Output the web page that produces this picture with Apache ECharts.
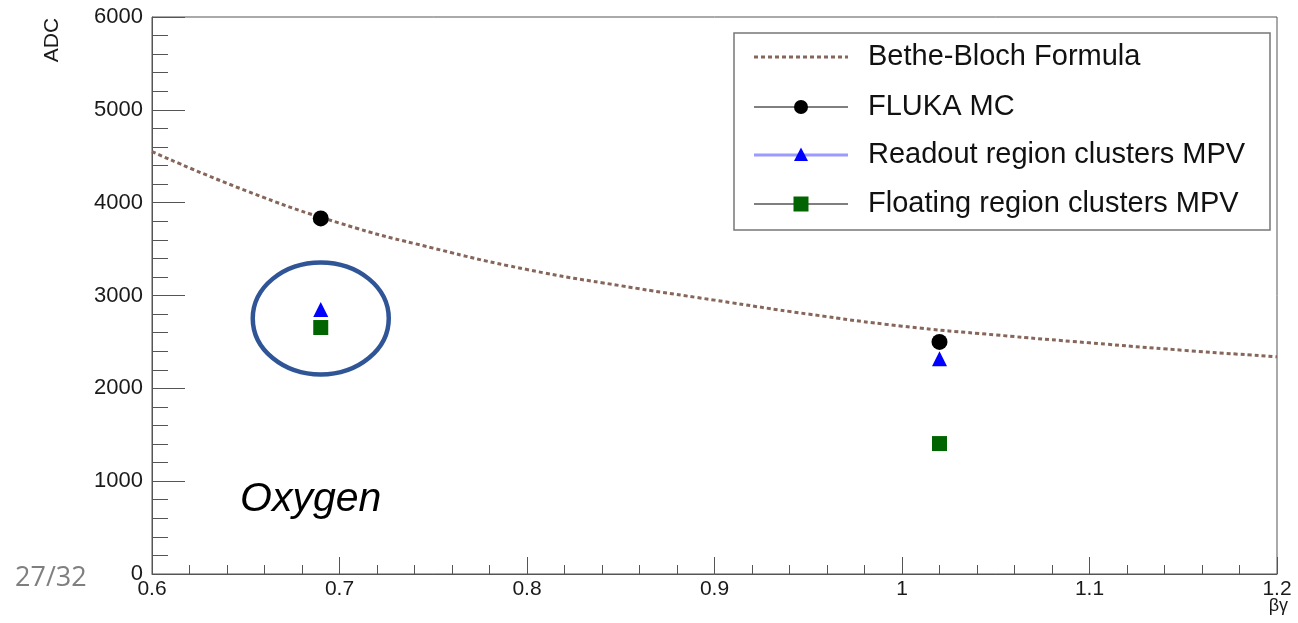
<!DOCTYPE html>
<html>
<head>
<meta charset="utf-8">
<script src="https://cdn.jsdelivr.net/npm/echarts@6/dist/echarts.min.js"></script>
<style>
html,body{margin:0;padding:0;background:#fff;}
#c{width:1298px;height:623px;}
</style>
</head>
<body>
<div id="c"></div>
<script>
// ---- data ----
const betaGamma = [0.69, 1.02];
const flukaMC = [3830, 2500];
const readoutMPV = [2850, 2320];
const floatingMPV = [2655, 1405];
const bbX = [0.60, 0.65, 0.70, 0.75, 0.80, 0.85, 0.90, 0.95, 1.00, 1.05, 1.10, 1.15, 1.20];
const bbY = [4550, 4130, 3780, 3510, 3280, 3105, 2950, 2800, 2670, 2575, 2490, 2410, 2340];
const seriesNames = ['Bethe-Bloch Formula', 'FLUKA MC', 'Readout region clusters MPV', 'Floating region clusters MPV'];
const xTicks = {min: 0.6, max: 1.2, step: 0.1};
const yTicks = {min: 0, max: 6000, step: 1000};

const zip = (xs, ys) => xs.map((x, i) => [x, ys[i]]);
const FONT = "'Liberation Sans', Arial, Helvetica, sans-serif";
const AX = '#555';

const chart = echarts.init(document.getElementById('c'), null, {renderer: 'canvas'});

const option = {
  backgroundColor: '#fff',
  animation: false,
  grid: {left: 152, right: 21, top: 17, bottom: 49, show: true, borderColor: AX, borderWidth: 1, backgroundColor: 'transparent'},
  xAxis: {
    type: 'value', min: xTicks.min, max: xTicks.max, interval: xTicks.step,
    axisLine: {show: true, lineStyle: {color: AX, width: 1}},
    axisTick: {show: true, inside: true, length: 17, lineStyle: {color: AX, width: 1}},
    minorTick: {show: true, splitNumber: 5, length: 9, lineStyle: {color: AX, width: 1}},
    splitLine: {show: false},
    axisLabel: {color: '#1a1a1a', fontFamily: FONT, fontSize: 21, margin: 5,
      formatter: v => (Math.abs(v - 1) < 1e-9 ? '1' : (+v).toFixed(1))}
  },
  yAxis: {
    type: 'value', min: yTicks.min, max: yTicks.max, interval: yTicks.step,
    axisLine: {show: true, lineStyle: {color: AX, width: 1}},
    axisTick: {show: true, inside: true, length: 33, lineStyle: {color: AX, width: 1}},
    minorTick: {show: true, splitNumber: 5, length: 16, lineStyle: {color: AX, width: 1}},
    splitLine: {show: false},
    axisLabel: {color: '#1a1a1a', fontFamily: FONT, fontSize: 22, margin: 9, formatter: v => String(Math.round(v))}
  },
  series: [
    {name: seriesNames[0], type: 'line', data: zip(bbX, bbY), smooth: true, showSymbol: false, symbol: 'none',
      lineStyle: {color: '#86665a', width: 3, type: [4, 3]}, z: 2},
    {name: seriesNames[1], type: 'scatter', data: zip(betaGamma, flukaMC), symbol: 'circle', symbolSize: 16,
      itemStyle: {color: '#000', opacity: 1}, z: 5},
    {name: seriesNames[2], type: 'scatter', data: zip(betaGamma, readoutMPV), symbol: 'triangle', symbolSize: 15,
      itemStyle: {color: '#0000ff', opacity: 1}, z: 5},
    {name: seriesNames[3], type: 'scatter', data: zip(betaGamma, floatingMPV), symbol: 'rect', symbolSize: 15,
      itemStyle: {color: '#006400', opacity: 1}, z: 5}
  ]
};
chart.setOption(option);

// ---- annotations & legend (graphic) ----
const ctr = chart.convertToPixel({gridIndex: 0}, [betaGamma[0], (readoutMPV[0] + floatingMPV[0]) / 2]);
const lx = 734, ly = 33, rowY = [57, 107, 155, 204], lineX0 = 754, lineX1 = 848, mX = 801, tX = 868;
const legendFont = {fontFamily: FONT, fontSize: 29, fill: '#111'};
const g = [
  {type: 'rect', shape: {x: lx, y: ly, width: 536, height: 197}, style: {fill: '#fff', stroke: '#777', lineWidth: 1.5}, z: 10},
  {type: 'line', shape: {x1: lineX0, y1: rowY[0], x2: lineX1, y2: rowY[0]}, style: {stroke: '#86665a', lineWidth: 3, lineDash: [4, 3]}, z: 11},
  {type: 'line', shape: {x1: lineX0, y1: rowY[1], x2: lineX1, y2: rowY[1]}, style: {stroke: '#000', lineWidth: 1}, z: 11},
  {type: 'circle', shape: {cx: mX, cy: rowY[1], r: 7}, style: {fill: '#000'}, z: 12},
  {type: 'line', shape: {x1: lineX0, y1: rowY[2], x2: lineX1, y2: rowY[2]}, style: {stroke: '#9a9aff', lineWidth: 3}, z: 11},
  {type: 'polygon', shape: {points: [[mX, rowY[2] - 7.5], [mX - 7, rowY[2] + 6], [mX + 7, rowY[2] + 6]]}, style: {fill: '#0000ff'}, z: 12},
  {type: 'line', shape: {x1: lineX0, y1: rowY[3], x2: lineX1, y2: rowY[3]}, style: {stroke: '#000', lineWidth: 1}, z: 11},
  {type: 'rect', shape: {x: mX - 7.5, y: rowY[3] - 7.5, width: 15, height: 15}, style: {fill: '#006400'}, z: 12}
];
seriesNames.forEach((n, i) => {
  g.push({type: 'text', x: tX, y: rowY[i], style: Object.assign({text: n, align: 'left', verticalAlign: 'middle'}, legendFont), z: 12});
});
g.push({type: 'text', x: 52, y: 40, rotation: Math.PI / 2,
  style: {text: 'ADC', fontFamily: FONT, fontSize: 21, fill: '#1a1a1a', align: 'center', verticalAlign: 'middle'}, z: 12});
g.push({type: 'text', x: 1288, y: 606,
  style: {text: 'βγ', fontFamily: FONT, fontSize: 18, fill: '#1a1a1a', align: 'right', verticalAlign: 'middle'}, z: 12});
g.push({type: 'ellipse', shape: {cx: ctr[0], cy: ctr[1], rx: 68, ry: 56}, style: {fill: 'none', stroke: '#2f5597', lineWidth: 4.5}, z: 13});
g.push({type: 'text', x: 240, y: 500,
  style: {text: 'Oxygen', fontFamily: FONT, fontStyle: 'italic', fontSize: 41, fill: '#000', align: 'left', verticalAlign: 'middle'}, z: 12});
g.push({type: 'text', x: 15, y: 578,
  style: {text: '27/32', fontFamily: "'Open Sans', sans-serif", fontSize: 27, fill: '#7f7f7f', align: 'left', verticalAlign: 'middle'}, z: 12});

chart.setOption({graphic: {elements: g}});
</script>
</body>
</html>
